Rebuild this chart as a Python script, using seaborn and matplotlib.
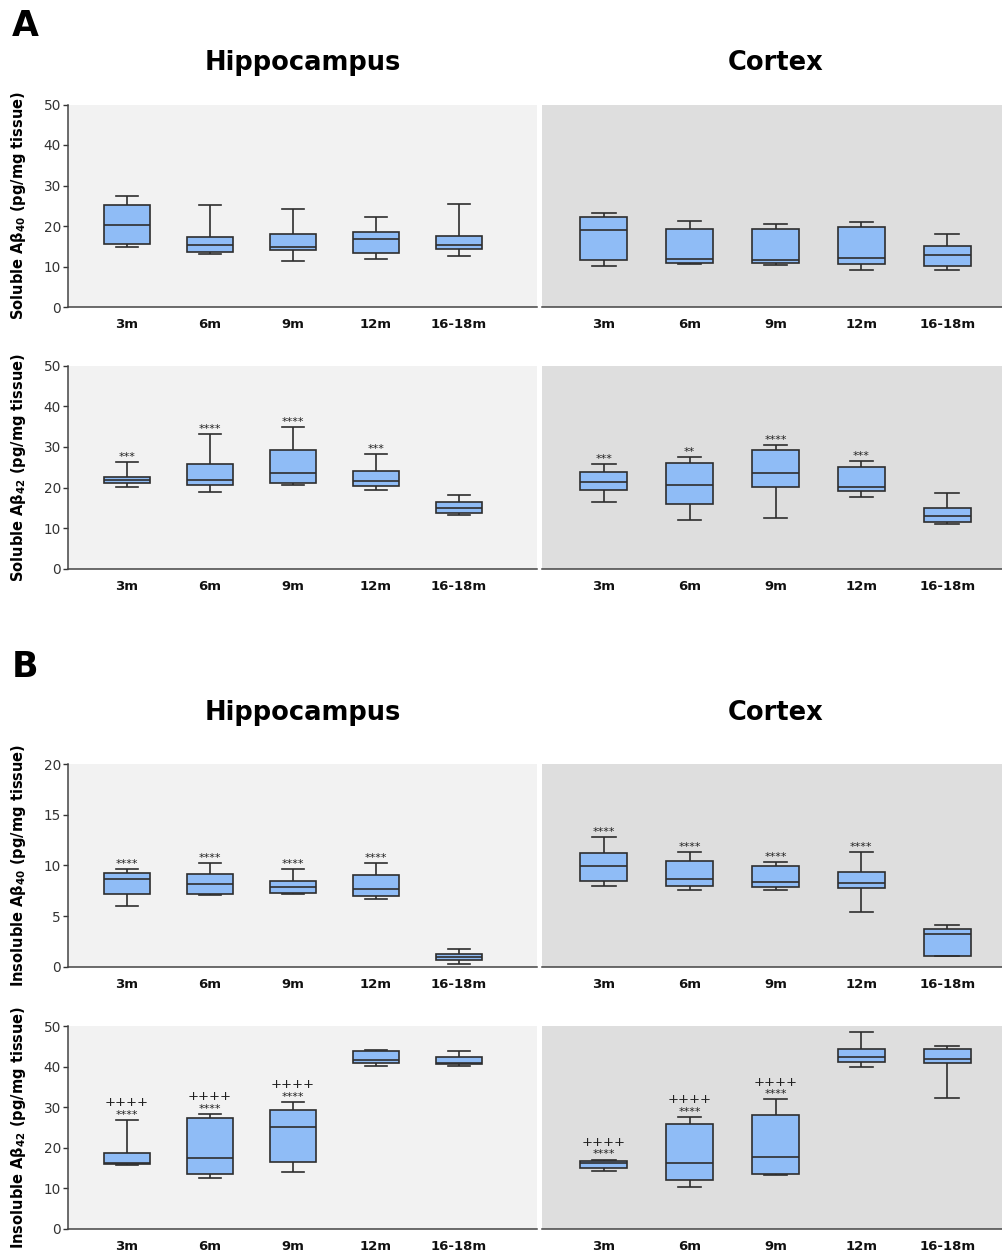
import numpy as np
import pandas as pd
import matplotlib
matplotlib.use("Agg")
import matplotlib.pyplot as plt
import seaborn as sns

# ── data: five-number summaries [min, q1, median, q3, max] per age group ─────
ages = ["3m", "6m", "9m", "12m", "16-18m"]

sol40_hip = [[14.9, 15.6, 20.3, 25.1, 27.5],
             [13.0, 13.7, 15.4, 17.4, 25.2],
             [11.4, 14.1, 14.7, 18.1, 24.1],
             [11.9, 13.3, 16.8, 18.6, 22.1],
             [12.5, 14.3, 15.2, 17.5, 25.5]]
sol40_ctx = [[10.1, 11.5, 18.9, 22.3, 23.1],
             [10.5, 10.9, 11.9, 19.2, 21.2],
             [10.3, 10.8, 11.5, 19.2, 20.5],
             [9.1, 10.5, 12.2, 19.7, 21.0],
             [9.1, 10.1, 12.9, 15.0, 18.0]]

sol42_hip = [[20.2, 21.1, 21.8, 22.6, 26.3],
             [18.8, 20.6, 21.8, 25.8, 33.1],
             [20.5, 21.2, 23.6, 29.3, 35.0],
             [19.5, 20.4, 21.7, 24.1, 28.2],
             [13.2, 13.7, 14.9, 16.4, 18.1]]
sol42_ctx = [[16.4, 19.4, 21.3, 23.7, 25.7],
             [12.1, 16.0, 20.7, 26.1, 27.5],
             [12.6, 20.2, 23.5, 29.3, 30.5],
             [17.7, 19.2, 20.1, 25.0, 26.6],
             [10.9, 11.5, 13.0, 15.0, 18.7]]

insol40_hip = [[6.0, 7.17, 8.7, 9.28, 9.6],
               [7.1, 7.17, 8.16, 9.14, 10.2],
               [7.17, 7.27, 7.83, 8.49, 9.6],
               [6.7, 7.0, 7.63, 9.05, 10.2],
               [0.23, 0.63, 1.0, 1.25, 1.78]]
insol40_ctx = [[7.96, 8.5, 9.9, 11.25, 12.8],
               [7.6, 7.96, 8.68, 10.4, 11.3],
               [7.6, 7.9, 8.39, 9.9, 10.36],
               [5.36, 7.76, 8.26, 9.38, 11.3],
               [1.05, 1.05, 3.19, 3.75, 4.08]]

insol42_hip = [[15.8, 16.0, 16.2, 18.7, 26.8],
               [12.6, 13.6, 17.5, 27.4, 28.3],
               [14.0, 16.4, 25.2, 29.3, 31.3],
               [40.1, 41.0, 41.6, 43.8, 44.1],
               [40.1, 40.6, 41.0, 42.3, 43.8]]
insol42_ctx = [[14.3, 15.0, 16.2, 16.7, 17.1],
               [10.4, 12.0, 16.3, 25.8, 27.6],
               [13.2, 13.5, 17.7, 28.1, 31.9],
               [39.9, 41.1, 42.4, 44.3, 48.4],
               [32.3, 40.8, 41.9, 44.3, 45.1]]

# significance marks
stars_sol42_hip = ["***", "****", "****", "***", ""]
stars_sol42_ctx = ["***", "**", "****", "***", ""]
stars_insol40_hip = ["****", "****", "****", "****", ""]
stars_insol40_ctx = ["****", "****", "****", "****", ""]
stars_insol42_hip = ["****", "****", "****", "", ""]
stars_insol42_ctx = ["****", "****", "****", "", ""]
plus_insol42_hip = ["++++", "++++", "++++", "", ""]
plus_insol42_ctx = ["++++", "++++", "++++", "", ""]

# ── style ─────────────────────────────────────────────────────────────────────
plt.rcParams["font.family"] = ["DejaVu Sans"]
BOX = "#8fbcf6"
EDGE = "#2e2e2e"
BG_HIP = "#f2f2f2"
BG_CTX = "#dedede"

W, H = 1003, 1255
fig = plt.figure(figsize=(W / 100, H / 100), dpi=100)


def px_axes(x0, x1, top, bottom):
    return fig.add_axes([x0 / W, 1 - bottom / H, (x1 - x0) / W, (bottom - top) / H])


def long_df(summary):
    rows = [(age, v) for age, vals in zip(ages, summary) for v in vals]
    return pd.DataFrame(rows, columns=["age", "value"])


def draw(ax, summary, bg, ymax, ystep, xlim, left, ylabel=None,
         stars=None, plus=None):
    ax.set_facecolor(bg)
    sns.boxplot(data=long_df(summary), x="age", y="value", order=ages,
                whis=(0, 100), width=0.55, color=BOX, saturation=1,
                linecolor=EDGE, linewidth=1.2, showfliers=False, ax=ax)
    ax.set_xlim(*xlim)
    ax.set_ylim(0, ymax)
    ax.set_xlabel("")
    for s in ["top", "right"]:
        ax.spines[s].set_visible(False)
    ax.spines["bottom"].set_color("#444444")
    ax.spines["bottom"].set_linewidth(1.1)
    ax.tick_params(axis="x", length=0, pad=8, labelsize=9.5, colors="#111111")
    for lab in ax.get_xticklabels():
        lab.set_fontweight("bold")
    if left:
        ax.spines["left"].set_color("#444444")
        ax.spines["left"].set_linewidth(1.1)
        ax.set_yticks(np.arange(0, ymax + 1, ystep))
        ax.tick_params(axis="y", length=3.5, width=1, pad=1.5, labelsize=9.8,
                       colors="#333333")
        ax.set_ylabel(ylabel, fontsize=10.5, fontweight="bold", va="center")
        ax.yaxis.set_label_coords(-0.105, 0.5)
    else:
        ax.spines["left"].set_visible(False)
        ax.set_yticks([])
        ax.set_ylabel("")
    tops = [max(v) for v in summary]
    if stars:
        for i, t in enumerate(stars):
            if t:
                ax.annotate(t, xy=(i, tops[i]), xytext=(0, 1.5),
                            textcoords="offset points", ha="center",
                            va="baseline", fontsize=8, color="#222222")
    if plus:
        for i, t in enumerate(plus):
            if t:
                ax.annotate(t, xy=(i, tops[i]), xytext=(0, 10),
                            textcoords="offset points", ha="center",
                            va="baseline", fontsize=9.5, color="#222222")


XL_HIP = (-0.71, 4.94)
XL_CTX = (-0.72, 4.65)
rows = [
    (104.5, 307, sol40_hip, sol40_ctx, 50, 10,
     "Soluble Aβ$_{\\mathbf{40}}$ (pg/mg tissue)", None, None, None, None),
    (365.7, 568.7, sol42_hip, sol42_ctx, 50, 10,
     "Soluble Aβ$_{\\mathbf{42}}$ (pg/mg tissue)", stars_sol42_hip, stars_sol42_ctx, None, None),
    (764, 966.7, insol40_hip, insol40_ctx, 20, 5,
     "Insoluble Aβ$_{\\mathbf{40}}$ (pg/mg tissue)", stars_insol40_hip, stars_insol40_ctx, None, None),
    (1026, 1229, insol42_hip, insol42_ctx, 50, 10,
     "Insoluble Aβ$_{\\mathbf{42}}$ (pg/mg tissue)", stars_insol42_hip, stars_insol42_ctx,
     plus_insol42_hip, plus_insol42_ctx),
]

for top, bottom, hip, ctx, ymax, ystep, ylab, s_h, s_c, p_h, p_c in rows:
    ax_h = px_axes(68, 537, top, bottom)
    draw(ax_h, hip, BG_HIP, ymax, ystep, XL_HIP, True, ylab, s_h, p_h)
    ax_c = px_axes(542, 1003, top, bottom)
    draw(ax_c, ctx, BG_CTX, ymax, ystep, XL_CTX, False, None, s_c, p_c)

# panel letters and region titles (baselines in pixels from top)
for letter, y_letter, y_title in [("A", 36, 70), ("B", 677, 720)]:
    fig.text(12 / W, 1 - y_letter / H, letter, fontsize=25, fontweight="bold",
             ha="left", va="baseline")
    fig.text(303 / W, 1 - y_title / H, "Hippocampus", fontsize=18.5,
             fontweight="bold", ha="center", va="baseline")
    fig.text(776 / W, 1 - y_title / H, "Cortex", fontsize=18.5,
             fontweight="bold", ha="center", va="baseline")

fig.savefig("out.png", dpi=100)
